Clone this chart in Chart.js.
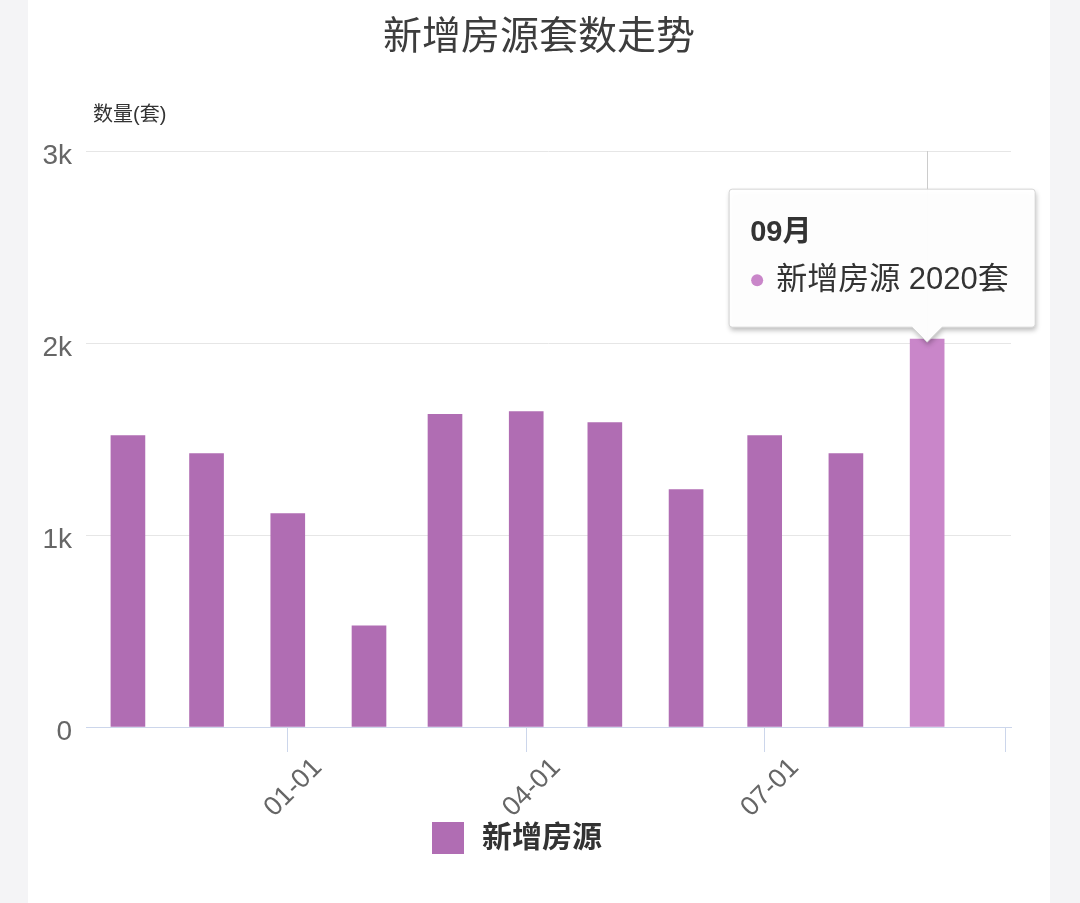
<!DOCTYPE html>
<html>
<head>
  <meta charset="UTF-8">
  <title>新增房源套数走势</title>
  <script src="https://cdn.jsdelivr.net/npm/chart.js"></script>
  <style>
    * { margin: 0; padding: 0; box-sizing: border-box; }
    body { background: #f4f4f6; width: 1080px; height: 903px; overflow: hidden; }
    .wrap { position: relative; width: 1080px; height: 903px; }
  </style>
</head>
<body>
  <div class="wrap"><canvas id="chart" width="1080" height="903"></canvas></div>

  <script>
    // --- data ---
    const monthDates = ['2019-11-01', '2019-12-01', '2020-01-01', '2020-02-01', '2020-03-01', '2020-04-01',
                        '2020-05-01', '2020-06-01', '2020-07-01', '2020-08-01', '2020-09-01'];
    const newListings = [1518, 1424, 1111, 527, 1628, 1643, 1586, 1236, 1518, 1424, 2020];
    const seriesName = '新增房源';
    const xTickDates = ['2020-01-01', '2020-04-01', '2020-07-01', '2020-10-01'];
    const xTickLabels = ['01-01', '04-01', '07-01', ''];
    const yTickValues = [0, 1000, 2000, 3000];
    const yTickLabels = ['0', '1k', '2k', '3k'];
    const yTitle = '数量(套)';
    const chartTitle = '新增房源套数走势';
    const activeIndex = 10; // hovered bar (09月)

    // days since first month, so the linear x axis spaces bars like a time axis
    const DAY = 86400000;
    const origin = Date.parse(monthDates[0] + 'T00:00:00Z');
    const toDay = s => Math.round((Date.parse(s + 'T00:00:00Z') - origin) / DAY);

    const FONT = "Helvetica, Arial, 'Liberation Sans', 'Noto Sans CJK SC', sans-serif";
    const BAR = '#b06db3';
    const BAR_HOVER = '#c986c9';

    const points = monthDates.map((d, i) => ({ x: toDay(d), y: newListings[i] }));
    const barColors = newListings.map((_, i) => i === activeIndex ? BAR_HOVER : BAR);

    // --- plugins ---
    const panelBg = {
      id: 'panelBg',
      beforeDraw(chart) {
        const { ctx, width, height } = chart;
        ctx.save();
        ctx.fillStyle = '#f4f4f6';
        ctx.fillRect(0, 0, width, height);
        ctx.fillStyle = '#ffffff';
        ctx.fillRect(28, 0, 1022, height);
        ctx.restore();
      }
    };

    const crosshair = {
      id: 'crosshair',
      beforeDatasetsDraw(chart) {
        const el = chart.getDatasetMeta(0).data[activeIndex];
        if (!el) return;
        const { ctx, chartArea } = chart;
        ctx.save();
        ctx.strokeStyle = '#cccccc';
        ctx.lineWidth = 1;
        ctx.beginPath();
        ctx.moveTo(Math.round(el.x) + 0.5, chartArea.top);
        ctx.lineTo(Math.round(el.x) + 0.5, el.y);
        ctx.stroke();
        ctx.restore();
      }
    };

    const extras = {
      id: 'extras',
      afterDraw(chart) {
        const { ctx, chartArea } = chart;
        ctx.save();
        ctx.textBaseline = 'middle';

        // title, centred on the white panel
        ctx.fillStyle = '#3d3d3d';
        ctx.font = '39px ' + FONT;
        ctx.textAlign = 'center';
        ctx.fillText(chartTitle, 539, 38);

        // y axis title, horizontal above the axis
        ctx.textAlign = 'left';
        ctx.fillStyle = '#333333';
        ctx.font = '20px ' + FONT;
        ctx.fillText(yTitle, chartArea.left + 7, chartArea.top - 36);

        // legend
        ctx.font = 'bold 30px ' + FONT;
        const tw = ctx.measureText(seriesName).width;
        const lx = 517 - (32 + 18 + tw) / 2;
        const ly = 838;
        ctx.fillStyle = BAR;
        ctx.fillRect(lx, ly - 16, 32, 32);
        ctx.fillStyle = '#333333';
        ctx.fillText(seriesName, lx + 50, ly + 1);

        // tooltip
        const el = chart.getDatasetMeta(0).data[activeIndex];
        if (el) {
          const tipX = el.x, tipY = el.y + 3;
          const w = 306, h = 138, r = 3;
          const left = tipX - 198, bottom = tipY - 15, top = bottom - h;
          ctx.beginPath();
          ctx.moveTo(left + r, top);
          ctx.lineTo(left + w - r, top);
          ctx.arcTo(left + w, top, left + w, top + r, r);
          ctx.lineTo(left + w, bottom - r);
          ctx.arcTo(left + w, bottom, left + w - r, bottom, r);
          ctx.lineTo(tipX + 15, bottom);
          ctx.lineTo(tipX, tipY);
          ctx.lineTo(tipX - 15, bottom);
          ctx.lineTo(left + r, bottom);
          ctx.arcTo(left, bottom, left, bottom - r, r);
          ctx.lineTo(left, top + r);
          ctx.arcTo(left, top, left + r, top, r);
          ctx.closePath();
          ctx.shadowColor = 'rgba(0,0,0,0.28)';
          ctx.shadowBlur = 5;
          ctx.shadowOffsetX = 1;
          ctx.shadowOffsetY = 3;
          ctx.fillStyle = 'rgba(255,255,255,0.97)';
          ctx.fill();
          ctx.shadowColor = 'transparent';
          ctx.strokeStyle = '#d6d6d6';
          ctx.lineWidth = 1;
          ctx.stroke();

          ctx.fillStyle = '#333333';
          ctx.font = 'bold 29px ' + FONT;
          ctx.fillText(monthDates[activeIndex].slice(5, 7) + '月', left + 21, top + 44);

          ctx.fillStyle = BAR_HOVER;
          ctx.beginPath();
          ctx.arc(left + 28, top + 91, 6, 0, Math.PI * 2);
          ctx.fill();
          ctx.fillStyle = '#333333';
          ctx.font = '31px ' + FONT;
          ctx.fillText(seriesName + ' ' + newListings[activeIndex] + '套', left + 47, top + 91);
        }
        ctx.restore();
      }
    };

    // --- chart ---
    new Chart(document.getElementById('chart'), {
      type: 'bar',
      data: {
        datasets: [{
          label: seriesName,
          data: points,
          backgroundColor: barColors,
          hoverBackgroundColor: barColors,
          borderWidth: 0,
          barThickness: 34,
        }]
      },
      options: {
        responsive: false,
        animation: false,
        events: [],
        layout: { padding: { left: 0, right: 69, top: 151, bottom: 86 } },
        plugins: {
          legend: { display: false },
          tooltip: { enabled: false },
          title: { display: false },
        },
        scales: {
          x: {
            type: 'linear',
            min: -16,
            max: 337,
            offset: false,
            afterBuildTicks: s => { s.ticks = xTickDates.map(d => ({ value: toDay(d) })); },
            afterFit: s => { s.height = 90; },
            ticks: {
              autoSkip: false,
              minRotation: 45,
              maxRotation: 45,
              padding: 0,
              labelOffset: 30,
              color: '#666666',
              font: { family: FONT, size: 27 },
              callback: (v, i) => xTickLabels[i],
            },
            grid: { offset: false, drawOnChartArea: false, drawTicks: true, tickLength: 25, color: '#ccd6eb', lineWidth: 1 },
            border: { display: true, color: '#ccd6eb', width: 1 },
          },
          y: {
            min: 0,
            max: 3000,
            afterBuildTicks: s => { s.ticks = yTickValues.map(v => ({ value: v })); },
            afterFit: s => { s.width = 86; },
            ticks: {
              padding: 14,
              labelOffset: 5,
              color: '#666666',
              font: { family: FONT, size: 28 },
              callback: (v, i) => yTickLabels[i],
            },
            grid: { color: '#e6e6e6', lineWidth: 1, drawTicks: false },
            border: { display: false },
          }
        }
      },
      plugins: [panelBg, crosshair, extras]
    });
  </script>
</body>
</html>
